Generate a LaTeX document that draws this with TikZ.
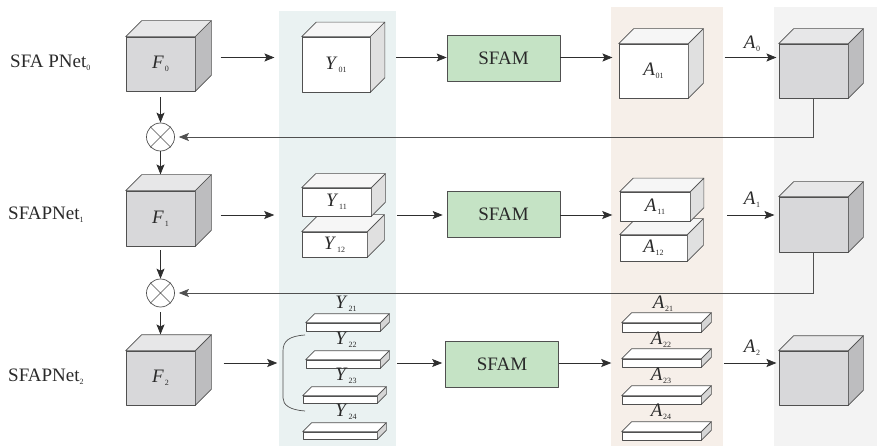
\documentclass[tikz,border=0pt]{standalone}
\usepackage{fontspec}
\setmainfont{Liberation Serif}
\usetikzlibrary{arrows.meta,calc,fit}

% palette
\definecolor{txt}{HTML}{2A2A2A}
\definecolor{edgec}{HTML}{505050}
\definecolor{arrc}{HTML}{2E2E2E}
\definecolor{bandY}{HTML}{EAF2F2}
\definecolor{bandA}{HTML}{F6EFE9}
\definecolor{bandG}{HTML}{F3F3F3}
\definecolor{gfront}{HTML}{D8D8DA}
\definecolor{gtop}{HTML}{E7E7E8}
\definecolor{gside}{HTML}{BDBDBF}
\definecolor{wfront}{HTML}{FFFFFF}
\definecolor{wtop}{HTML}{F6F6F6}
\definecolor{wside}{HTML}{E0E0E0}
\definecolor{pfront}{HTML}{FFFFFF}
\definecolor{ptop}{HTML}{FFFFFF}
\definecolor{pside}{HTML}{D6D6D6}
\definecolor{sfamc}{HTML}{C5E3C5}

\tikzset{
  edge/.style={draw=edgec, line width=0.7pt, line join=round},
  face/.style={edge, rectangle, inner sep=0pt, text=txt},
  outer/.style={inner sep=0pt, draw=none, fill=none},
  arr/.style={draw=arrc, line width=0.75pt, -{Stealth[length=10pt,width=8pt,inset=2pt]}},
  feed/.style={arr, draw=edgec},
  sfam/.style={edge, fill=sfamc, rectangle, inner sep=0pt, minimum width=113pt, minimum height=46pt, text=txt},
  mult/.style={edge, circle, fill=white, inner sep=0pt, minimum size=28pt},
  rowlbl/.style={text=txt, anchor=west, inner sep=0pt},
  symlbl/.style={text=txt, inner sep=0pt},
  brace/.style={draw=edgec, line width=0.7pt},
}

% variable with a small lowered index
\newcommand{\sym}[2]{\textit{#1}\kern0.8pt\raisebox{-3pt}{\fontsize{8}{8}\selectfont #2}}

% box with visible top and right faces
% #1 name, #2 x, #3 y (front centre), #4 width, #5 height, #6 depth, #7 colour set, #8 text
\newcommand{\solid}[8]{%
  \node[face, fill=#7front, minimum width=#4pt, minimum height=#5pt] (#1) at (#2,#3) {#8};
  \draw[edge, fill=#7top] (#1.north west) -- ++(#6,-#6) -- ($(#1.north east)+(#6,-#6)$) -- (#1.north east) -- cycle;
  \draw[edge, fill=#7side] (#1.north east) -- ++(#6,-#6) -- ($(#1.south east)+(#6,-#6)$) -- (#1.south east) -- cycle;
  \coordinate (#1tr) at ($(#1.north east)+(#6,-#6)$);
  \node[outer, fit=(#1.south west)(#1tr)] (#1o) {};
}

\begin{document}
\begin{tikzpicture}[x=1pt, y=-1pt, font=\fontsize{19}{22}\selectfont]
\useasboundingbox (0,0) rectangle (877,446);

% column bands
\fill[bandY] (279,11) rectangle (396,446);
\fill[bandA] (611,7) rectangle (723,446);
\fill[bandG] (774,7) rectangle (877,446);

% row heights of the horizontal flow
\coordinate (r0) at (0,57.5);
\coordinate (r1) at (0,215);
\coordinate (r2) at (0,363);

% row titles
\node[rowlbl] (n0) at (10,63) {SFA PNet\raisebox{-3pt}{\fontsize{8}{8}\selectfont 0}};
\node[rowlbl] (n1) at (8,215) {SFAPNet\raisebox{-3pt}{\fontsize{8}{8}\selectfont 1}};
\node[rowlbl] (n2) at (8,377) {SFAPNet\raisebox{-3pt}{\fontsize{8}{8}\selectfont 2}};

% input features
\solid{f0}{160.5}{64}{69}{54}{16}{g}{\sym{F}{0}}
\solid{f1}{160.5}{218.5}{69}{55}{16}{g}{\sym{F}{1}}
\solid{f2}{160.5}{378}{69}{54}{16}{g}{\sym{F}{2}}

% fusion points
\node[mult] (c1) at (160.5,137) {};
\draw[edge] (c1.45) -- (c1.225) (c1.135) -- (c1.315);
\node[mult] (c2) at (160.5,293) {};
\draw[edge] (c2.45) -- (c2.225) (c2.135) -- (c2.315);

% split features
\solid{y01}{336}{64.5}{68}{55}{14.5}{w}{\sym{Y}{01}}
\solid{y12}{334.5}{244.5}{65}{25}{17}{w}{\sym{Y}{12}}
\solid{y11}{336.5}{202}{69}{28}{14}{w}{\sym{Y}{11}}
\node[outer, fit=(y11o)(y12o)] (y1g) {};

\solid{y21}{343}{327}{74}{8}{9}{p}{}
\solid{y22}{343}{364}{74}{8}{9}{p}{}
\solid{y23}{340}{399.5}{74}{7}{9}{p}{}
\solid{y24}{340}{435.5}{74}{7}{9}{p}{}
\node[symlbl] (ly21) at (346,304) {\sym{Y}{21}};
\node[symlbl] (ly22) at (346,340) {\sym{Y}{22}};
\node[symlbl] (ly23) at (346,376) {\sym{Y}{23}};
\node[symlbl] (ly24) at (346,412) {\sym{Y}{24}};
\node[outer, fit=(y21o)(y24o)] (y2g) {};
\draw[brace] (305,335) .. controls (289,336) and (283,341) .. (283,351) -- (283,398)
             .. controls (283,405) and (290,410) .. (305,411);

% attention modules
\node[sfam] (s0) at (503.5,58) {SFAM};
\node[sfam] (s1) at (503.5,214.5) {SFAM};
\node[sfam] (s2) at (502,364.5) {SFAM};

% attended features
\solid{a01}{653.5}{71}{69}{54}{15}{w}{\sym{A}{01}}
\solid{a12}{653.5}{248}{67}{26}{16}{w}{\sym{A}{12}}
\solid{a11}{655}{206.5}{70}{29}{13.5}{w}{\sym{A}{11}}
\node[outer, fit=(a11o)(a12o)] (a1g) {};

\solid{a21}{661.5}{327.5}{79}{9}{10}{p}{}
\solid{a22}{661.5}{363}{79}{8}{10}{p}{}
\solid{a23}{661.5}{400}{79}{8}{10}{p}{}
\solid{a24}{661.5}{436}{79}{8}{10}{p}{}
\node[symlbl] (la21) at (663,304) {\sym{A}{21}};
\node[symlbl] (la22) at (661,340) {\sym{A}{22}};
\node[symlbl] (la23) at (661,376) {\sym{A}{23}};
\node[symlbl] (la24) at (661,412) {\sym{A}{24}};
\node[outer, fit=(a21o)(a24o)] (a2g) {};

% outputs
\solid{g0}{813.5}{71}{69}{54}{15}{g}{}
\solid{g1}{813.5}{224.5}{69}{55}{15}{g}{}
\solid{g2}{813.5}{378}{69}{54}{15}{g}{}
\node[symlbl] (lo0) at (752,44) {\sym{A}{0}};
\node[symlbl] (lo1) at (752,200) {\sym{A}{1}};
\node[symlbl] (lo2) at (752,348) {\sym{A}{2}};

% horizontal flow, row 0
\draw[arr] ($(f0o.east|-r0)+(9,0)$) -- ($(y01o.west|-r0)+(-27,0)$);
\draw[arr] ($(y01o.east|-r0)+(11,0)$) -- (s0.west|-r0);
\draw[arr] (s0.east|-r0) -- ($(a01o.west|-r0)+(-6,0)$);
\draw[arr] ($(a01o.east|-r0)+(21,0)$) -- ($(g0o.west|-r0)+(-2,0)$);

% horizontal flow, row 1
\draw[arr] ($(f1o.east|-r1)+(9,0)$) -- ($(y1g.west|-r1)+(-27,0)$);
\draw[arr] ($(y1g.east|-r1)+(11,0)$) -- ($(s1.west|-r1)+(-4,0)$);
\draw[arr] (s1.east|-r1) -- ($(a1g.west|-r1)+(-7,0)$);
\draw[arr] ($(a1g.east|-r1)+(23,0)$) -- ($(g1o.west|-r1)+(-4,0)$);

% horizontal flow, row 2
\draw[arr] ($(f2o.east|-r2)+(12,0)$) -- ($(y2g.west|-r2)+(-25,0)$);
\draw[arr] ($(y2g.east|-r2)+(7,0)$) -- ($(s2.west|-r2)+(-3,0)$);
\draw[arr] (s2.east|-r2) -- ($(a2g.west|-r2)+(-10,0)$);
\draw[arr] ($(a2g.east|-r2)+(12,0)$) -- ($(g2o.west|-r2)+(-2,0)$);

% vertical chain through the fusion points
\draw[arr, shorten <=6pt] (f0.south) -- (c1.north);
\draw[arr] (c1.south) -- (c1.south |- f1o.north);
\draw[arr, shorten <=4pt] (f1.south) -- (c2.north);
\draw[arr, shorten <=5pt] (c2.south) -- (c2.south |- f2o.north);

% feedback from the outputs
\draw[feed, shorten >=4pt] (g0.south) |- (c1.east);
\draw[feed, shorten >=4pt] (g1.south) |- (c2.east);
\end{tikzpicture}
\end{document}
